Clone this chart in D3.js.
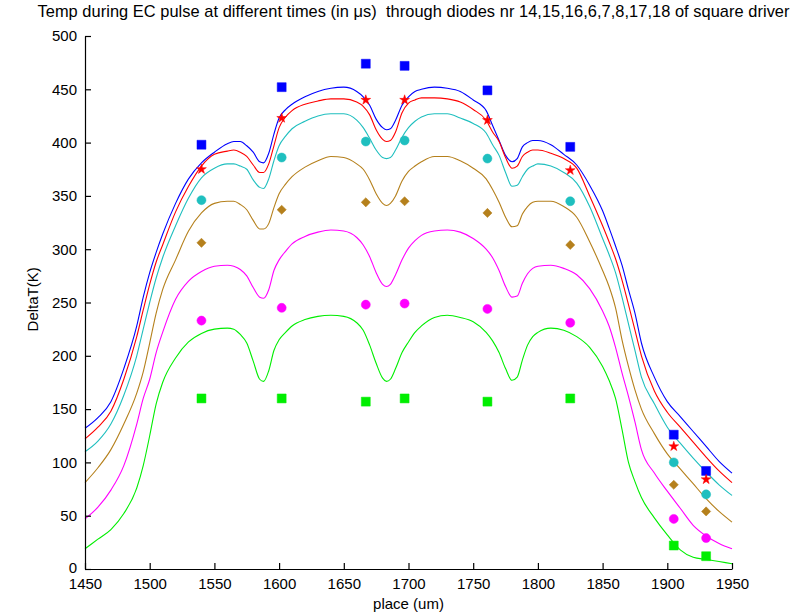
<!DOCTYPE html>
<html>
<head>
<meta charset="utf-8">
<script src="https://cdn.jsdelivr.net/npm/d3@7"></script>
<style>
  html, body { margin: 0; padding: 0; background: #fff; }
  svg { display: block; font-family: "Liberation Sans", Arial, Helvetica, sans-serif; }
  .title { white-space: pre; }
</style>
</head>
<body>
<svg id="chart" width="796" height="616"></svg>
<script>
// Simulated temperature rise along the driver (x in um)
const place = [1450,1460,1470,1480,1490,1495,1500,1505,1510,1520,1530,1540,1550,1560,1565,1570,1575,1580,1585,1588,
  1592,1596,1600,1605,1610,1620,1630,1640,1650,1660,1665,1670,1675,1680,1683,1686,1690,1695,1700,1705,
  1710,1720,1730,1740,1750,1760,1765,1770,1775,1780,1784,1788,1792,1796,1800,1810,1820,1830,1840,1850,
  1855,1860,1865,1870,1875,1880,1890,1900,1910,1920,1930,1940,1950];

const simBlue = [132,142,157,188,228,255,278,297,314,343,366,381,391,399,401,401,397,391,382,381,
  390,408,423,431,436,443,448,451,452,448,443,435,422,414,412,413,421,435,443,448,
  450,452,451,448,440,430,416,402,388,382,385,396,400,402,402,398,389,379,360,336,
  320,303,285,262,240,212,180,157,143,129,115,101,90];

const simRed = [122,133,148,178,218,243,267,288,304,335,359,378,389,392,393,391,387,379,372,372,
  380,397,414,424,430,436,439,441,441,438,434,426,412,403,401,402,410,428,437,440,
  442,442,441,438,431,421,410,401,386,376,378,387,391,393,393,390,385,376,350,322,
  307,291,271,248,224,200,167,147,133,119,105,92,81];

const simCyan = [110,120,136,163,200,225,250,273,292,322,348,367,376,380,380,378,375,365,358,357,
  366,383,397,406,413,420,425,427,427,421,414,404,393,386,385,386,393,405,414,420,
  424,427,427,423,418,409,398,388,372,359,360,368,375,378,380,378,372,362,340,310,
  295,278,255,230,205,180,155,133,118,104,91,79,69];

const simBrown = [81,95,112,136,165,185,212,240,262,290,317,334,343,345,345,342,337,327,319,319,
  324,339,352,361,368,377,383,387,386,380,375,365,352,343,341,343,350,364,373,378,
  382,387,387,383,376,366,356,344,330,321,322,333,340,344,345,345,340,330,307,280,
  265,245,215,190,168,150,127,108,94,80,66,54,44];

const simMagenta = [47,58,74,97,136,160,178,203,222,253,270,279,284,285,284,281,275,264,255,254,
  262,280,290,298,305,312,316,318,317,311,304,293,278,267,265,267,276,290,301,308,
  313,317,318,316,310,300,292,280,265,255,256,268,277,282,284,285,282,276,263,242,
  228,208,184,162,138,112,90,73,57,41,31,24,19];

const simGreen = [19,28,37,52,76,97,125,155,175,198,213,221,225,226,225,220,212,195,178,176,
  186,205,215,222,228,234,237,238,237,231,224,210,193,179,176,178,188,203,213,222,
  228,236,238,236,232,222,214,203,188,177,180,196,210,218,222,226,224,218,208,190,
  177,160,131,100,82,67,48,32,18,11,9,7,5];

// Measured values at the diode positions
const diodePlace = [1540, 1602, 1667, 1697, 1761, 1825, 1905, 1930];
const measBlue    = [398, 452, 474, 472, 449, 396, 126, 92];
const measRed     = [375, 423, 440, 440, 421, 374, 115, 84];
const measCyan    = [346, 386, 401, 402, 385, 345, 100, 70];
const measBrown   = [306, 337, 344, 345, 334, 304, 79, 54];
const measMagenta = [233, 245, 248, 249, 244, 231, 47, 29];
const measGreen   = [160, 160, 157, 160, 157, 160, 22, 12];

const xTicks = [1450,1500,1550,1600,1650,1700,1750,1800,1850,1900,1950];
const yTicks = [0,50,100,150,200,250,300,350,400,450,500];

const titleText = "Temp during EC pulse at different times (in \u03bcs)  through diodes nr 14,15,16,6,7,8,17,18 of square driver";
const xLabel = "place (um)";
const yLabel = "DeltaT(K)";

const series = [
  { sim: simBlue,    meas: measBlue,    color: "#0000ff", marker: "square" },
  { sim: simRed,     meas: measRed,     color: "#ff0000", marker: "star" },
  { sim: simCyan,    meas: measCyan,    color: "#1fbfbf", marker: "circle" },
  { sim: simBrown,   meas: measBrown,   color: "#b5801c", marker: "diamond" },
  { sim: simMagenta, meas: measMagenta, color: "#ff00ff", marker: "circle" },
  { sim: simGreen,   meas: measGreen,   color: "#00ee00", marker: "square" }
];

const margin = { left: 85, right: 64, top: 36, bottom: 47 };
const W = 796, H = 616;

const svg = d3.select("#chart");
const x = d3.scaleLinear().domain([1450, 1950]).range([margin.left, W - margin.right]);
const y = d3.scaleLinear().domain([0, 500]).range([H - margin.bottom, margin.top]);

// Simulated profiles
const line = d3.line()
  .x((d, i) => x(place[i]))
  .y(d => y(d))
  .curve(d3.curveMonotoneX);

svg.append("g").selectAll("path")
  .data(series)
  .join("path")
  .attr("d", s => line(s.sim))
  .attr("fill", "none")
  .attr("stroke", s => s.color)
  .attr("stroke-width", 1.1);

// Measured points
const symbolFor = {
  square: d3.symbol().type(d3.symbolSquare).size(80),
  star: d3.symbol().type(d3.symbolStar).size(30),
  circle: d3.symbol().type(d3.symbolCircle).size(64),
  diamond: d3.symbol().type(d3.symbolSquare).size(42)
};

series.forEach(s => {
  svg.append("g").selectAll("path")
    .data(s.meas)
    .join("path")
    .attr("d", symbolFor[s.marker]())
    .attr("transform", (d, i) => `translate(${x(diodePlace[i])},${y(d)})` + (s.marker === "diamond" ? " rotate(45)" : ""))
    .attr("fill", s.color)
    .attr("stroke", s.color)
    .attr("stroke-width", 0.5);
});

// Axes with inward ticks
const xAxis = d3.axisBottom(x).tickValues(xTicks).tickFormat(d3.format("d"))
  .tickSizeInner(-6).tickSizeOuter(0).tickPadding(8);
const yAxis = d3.axisLeft(y).tickValues(yTicks).tickFormat(d3.format("d"))
  .tickSizeInner(-6).tickSizeOuter(0).tickPadding(8);

const gx = svg.append("g").attr("transform", `translate(0,${H - margin.bottom})`).call(xAxis);
const gy = svg.append("g").attr("transform", `translate(${margin.left},0)`).call(yAxis);
[gx, gy].forEach(g => {
  g.selectAll("path, line").attr("stroke", "#000").attr("stroke-width", 1.2);
  g.selectAll("text").attr("font-size", 15).attr("fill", "#000")
    .attr("font-family", "'Liberation Sans', Arial, sans-serif");
});
gx.selectAll("text").attr("dy", "0.8em");
gy.select(".tick text").attr("dy", "0.2em");

svg.append("text")
  .attr("class", "title")
  .attr("x", 413.5).attr("y", 17)
  .attr("text-anchor", "middle")
  .attr("font-size", 16.4)
  .attr("textLength", 752)
  .attr("lengthAdjust", "spacing")
  .text(titleText);

svg.append("text")
  .attr("x", x(1700)).attr("y", 609)
  .attr("text-anchor", "middle")
  .attr("font-size", 15)
  .text(xLabel);

svg.append("text")
  .attr("transform", `translate(38,${y(253)}) rotate(-90)`)
  .attr("text-anchor", "middle")
  .attr("font-size", 15)
  .text(yLabel);
</script>
</body>
</html>
